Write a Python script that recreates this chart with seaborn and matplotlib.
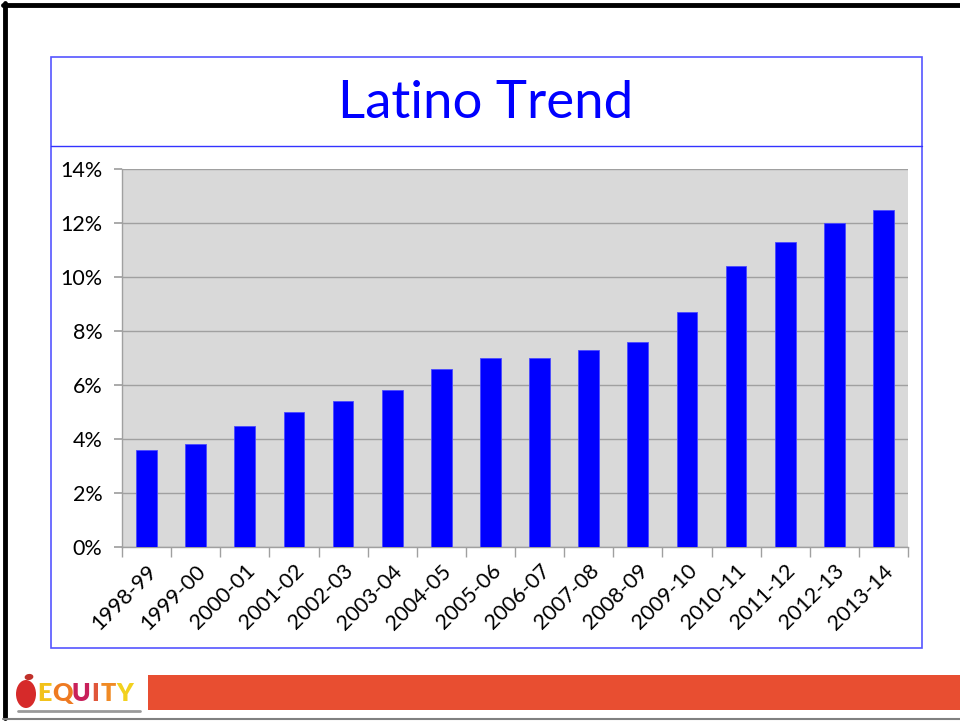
import matplotlib
matplotlib.use("Agg")
import matplotlib.pyplot as plt
from matplotlib.patches import Rectangle, Ellipse
from matplotlib.lines import Line2D
from matplotlib.ticker import FixedLocator, FuncFormatter
import seaborn as sns
import pandas as pd

years = ["1998-99", "1999-00", "2000-01", "2001-02", "2002-03", "2003-04",
         "2004-05", "2005-06", "2006-07", "2007-08", "2008-09", "2009-10",
         "2010-11", "2011-12", "2012-13", "2013-14"]
latino_pct = [3.6, 3.8, 4.5, 5.0, 5.4, 5.8, 6.6, 7.0, 7.0, 7.3, 7.6, 8.7,
              10.4, 11.3, 12.0, 12.5]
y_ticks = [0, 2, 4, 6, 8, 10, 12, 14]
title = "Latino Trend"
logo_letters = ["E", "Q", "U", "I", "T", "Y"]
logo_colors = ["#F2C21B", "#EE7A22", "#C8205A", "#E0563A", "#F08A24", "#F2D11E"]

sns.set_theme(style="white")
plt.rcParams["font.family"] = ["Lato", "DejaVu Sans"]

W, H = 960, 721
fig = plt.figure(figsize=(W / 100, H / 100), dpi=100)
fig.patch.set_facecolor("white")

def fx(x): return x / W
def fy(y): return 1 - y / H

# slide border
fig.add_artist(Line2D([fx(5), fx(5)], [fy(3), fy(718)], color="black", lw=3.5))
fig.add_artist(Line2D([fx(3), fx(960)], [fy(5), fy(5)], color="black", lw=3.5))
fig.add_artist(Line2D([fx(3), fx(960)], [fy(719), fy(719)], color="#808080", lw=1.5))

# chart outer box
fig.add_artist(Rectangle((fx(51), fy(648)), fx(922) - fx(51), fy(57) - fy(648),
                         fill=False, edgecolor="#5555FF", lw=1.2))
fig.add_artist(Line2D([fx(51), fx(922)], [fy(146), fy(146)], color="#3333FF", lw=1.0))
fig.text(fx(486), fy(103), title, color="#0000FF", fontsize=38,
         ha="center", va="center")

# plot area
ax = fig.add_axes([fx(122), fy(547), fx(908) - fx(122), fy(169) - fy(547)])
df = pd.DataFrame({"year": years, "pct": latino_pct})
sns.barplot(data=df, x="year", y="pct", color="#0000FF", width=0.42,
            edgecolor="#4A4AFF", linewidth=0.6, saturation=1, ax=ax, zorder=3)
ax.set_facecolor("#D9D9D9")
ax.set_xlim(-0.5, len(years) - 0.5)
ax.set_ylim(0, 14)
ax.set_yticks(y_ticks)
ax.yaxis.set_major_formatter(FuncFormatter(lambda v, p: f"{v:.0f}%"))
ax.grid(axis="y", color="#A0A0A0", lw=1.0, zorder=0)
ax.set_axisbelow(True)
for s in ["top", "right"]:
    ax.spines[s].set_visible(False)
ax.spines["left"].set_color("#A0A0A0")
ax.spines["bottom"].set_color("#A0A0A0")
ax.spines["left"].set_linewidth(1.0)
ax.spines["bottom"].set_linewidth(1.0)
ax.set_xlabel("")
ax.set_ylabel("")
ax.tick_params(axis="y", left=True, length=6, color="#A0A0A0", labelsize=15.5,
               labelcolor="black", pad=8)
ax.tick_params(axis="x", which="major", bottom=False, length=0, labelsize=15.5,
               labelcolor="black", pad=10)
ax.xaxis.set_minor_locator(FixedLocator([i - 0.5 for i in range(len(years) + 1)]))
ax.tick_params(axis="x", which="minor", bottom=True, length=7, color="#A0A0A0")
for lab in ax.get_xticklabels():
    lab.set_rotation(45)
    lab.set_ha("right")
    lab.set_rotation_mode("anchor")

# footer bar
fig.add_artist(Rectangle((fx(148), fy(710)), fx(960) - fx(148), fy(675) - fy(710),
                         facecolor="#E84E31", edgecolor="none"))
# logo
fig.add_artist(Line2D([fx(18), fx(140)], [fy(711), fy(711)], color="#9A9A9A", lw=2))
fig.add_artist(Ellipse((fx(26), fy(694)), fx(20) - fx(0), fy(0) - fy(28),
                       facecolor="#D62A2A", edgecolor="none"))
fig.add_artist(Ellipse((fx(29), fy(677)), fx(9) - fx(0), fy(0) - fy(6),
                       facecolor="#C0302A", edgecolor="none", angle=30))
xs = [44, 62, 81, 95, 108, 125]
for x, ch, c in zip(xs, logo_letters, logo_colors):
    fig.text(fx(x), fy(694), ch, color=c, fontsize=18, fontweight="heavy",
             ha="center", va="center")

fig.savefig("out.png", dpi=100)
